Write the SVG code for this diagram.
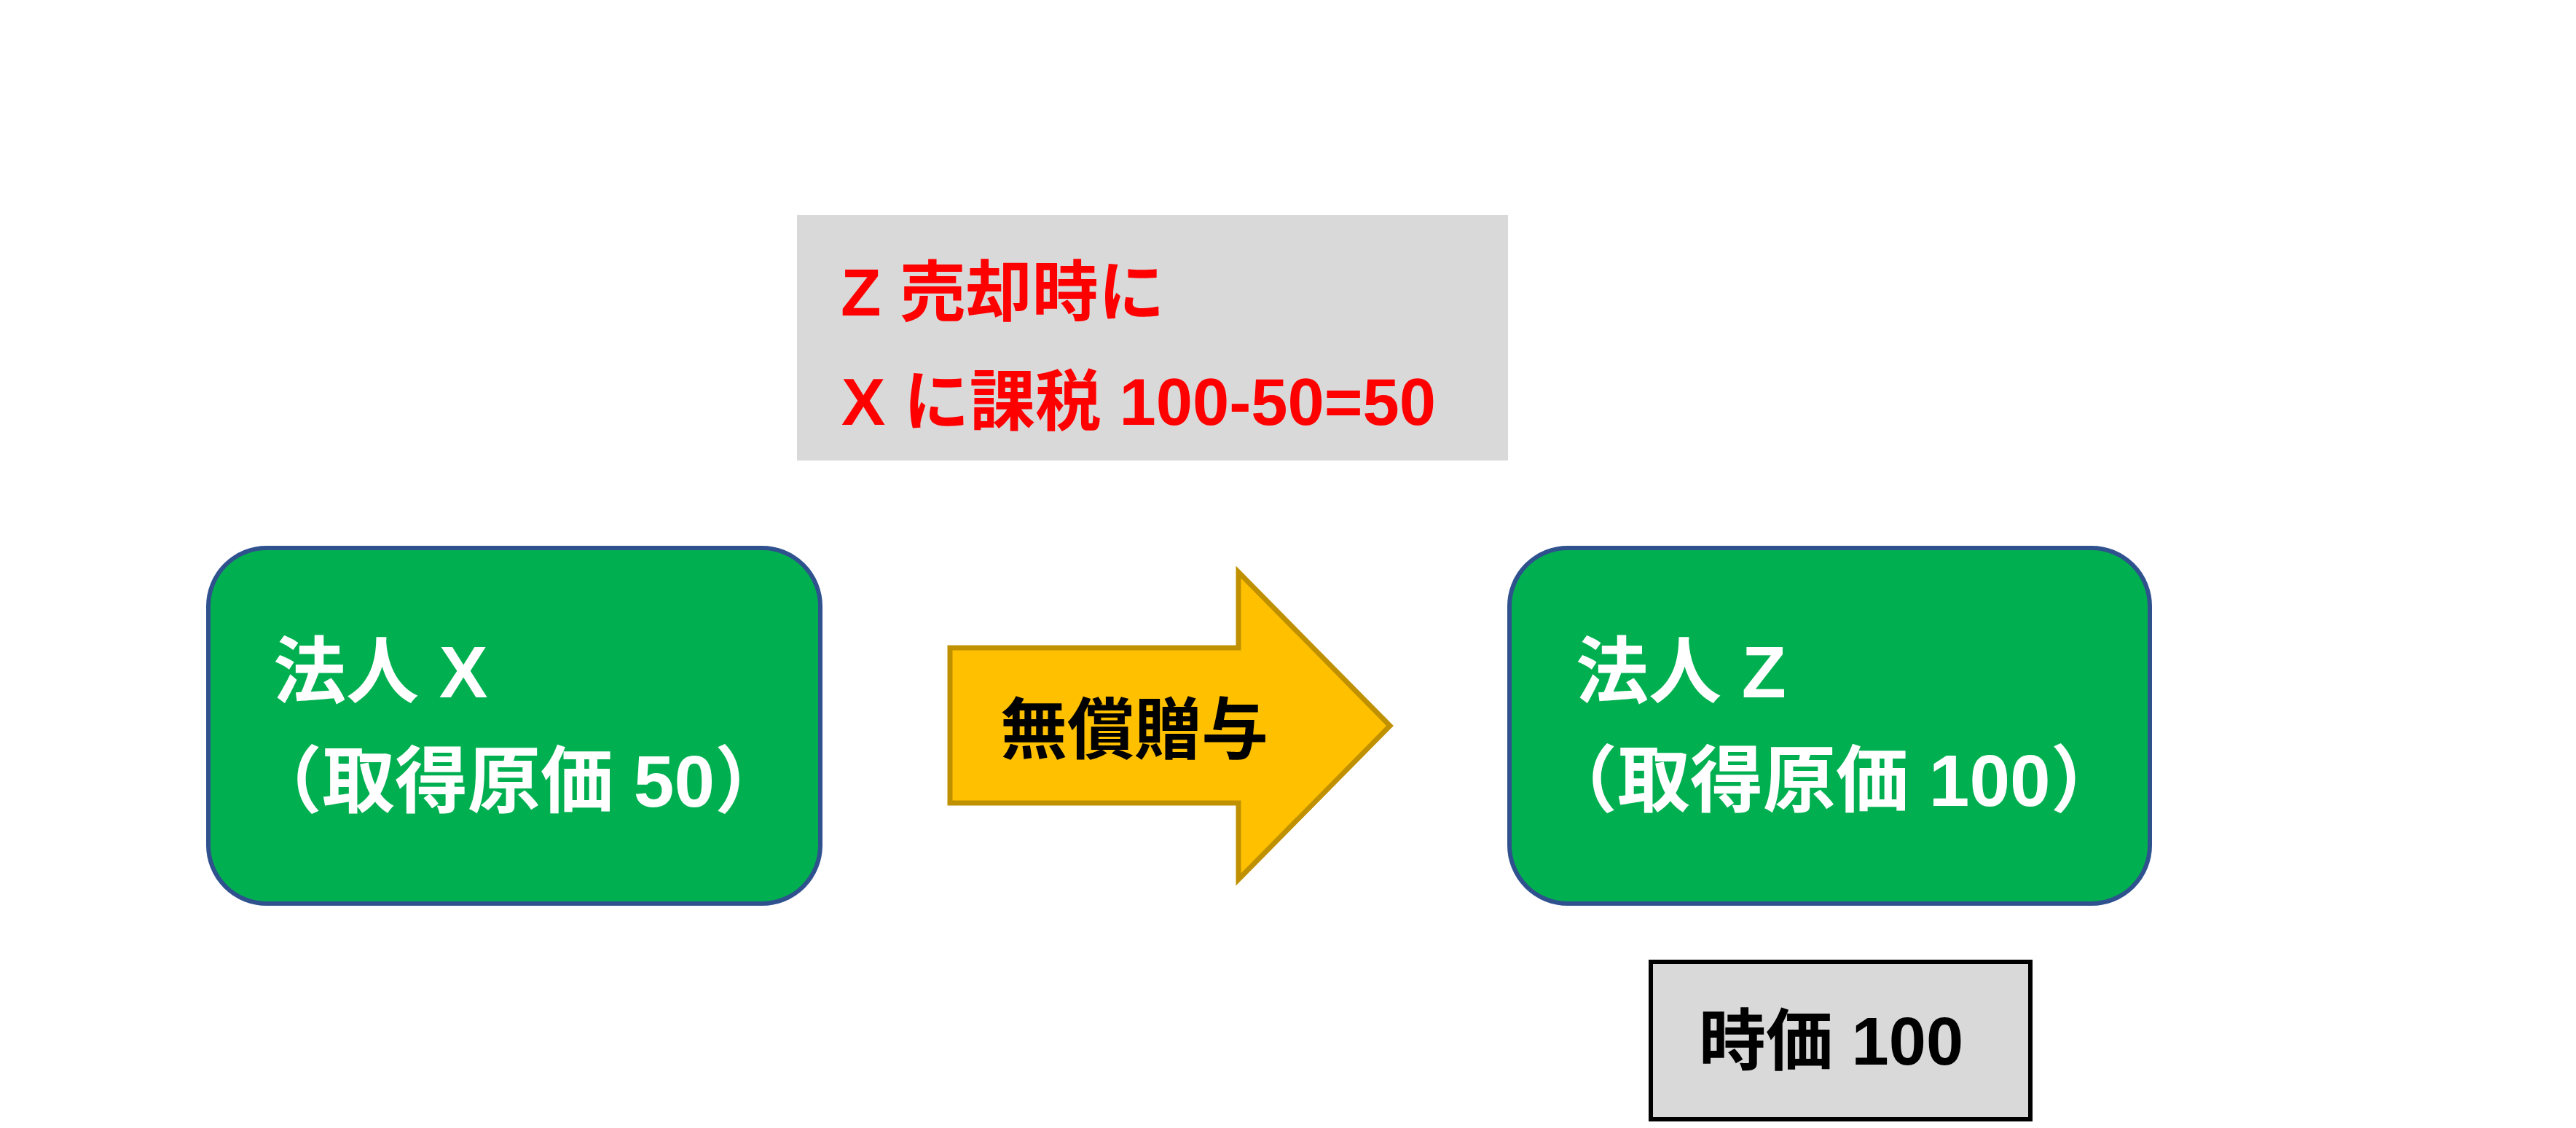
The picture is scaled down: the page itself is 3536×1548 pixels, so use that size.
<svg xmlns="http://www.w3.org/2000/svg" width="3536" height="1548" viewBox="0 0 3536 1548">
<style>
text{font-family:"Liberation Sans","Noto Sans CJK JP",sans-serif;font-weight:700}
.node{fill:#00B050;stroke:#2F528F;stroke-width:6}
.wt{fill:#FFFFFF;font-size:100px}
.rt{fill:#FF0000;font-size:91px}
.bt{fill:#000000;font-size:92px}
.gray{fill:#D9D9D9}
</style>
<rect width="3536" height="1548" fill="#FFFFFF"/>
<g id="note">
<rect class="gray" x="1094" y="295" width="976" height="337"/>
<text class="rt" x="1154" y="433">Z 売却時に</text>
<text class="rt" x="1155" y="583" textLength="816" lengthAdjust="spacingAndGlyphs">X に課税 100-50=50</text>
</g>
<g id="nodeX">
<rect class="node" x="286" y="752" width="840" height="488" rx="80" ry="80"/>
<text class="wt" x="375" y="957">法人 X</text>
<text class="wt" x="342" y="1107">（取得原価 50）</text>
</g>
<g id="connectors">
<g id="gift">
<path d="M1304,889 L1700,889 L1700,785 L1908,996 L1700,1207 L1700,1102 L1304,1102 Z" fill="#FFC000" stroke="#BF9000" stroke-width="7"/>
<text class="bt" x="1373" y="1034">無償贈与</text>
</g>
</g>
<g id="nodeZ">
<rect class="node" x="2072" y="752" width="879" height="488" rx="80" ry="80"/>
<text class="wt" x="2163" y="957">法人 Z</text>
<text class="wt" x="2120" y="1106">（取得原価 100）</text>
</g>
<g id="price">
<rect class="gray" x="2266" y="1320" width="521" height="216" stroke="#000000" stroke-width="6"/>
<text class="bt" x="2332" y="1461">時価 100</text>
</g>
</svg>
